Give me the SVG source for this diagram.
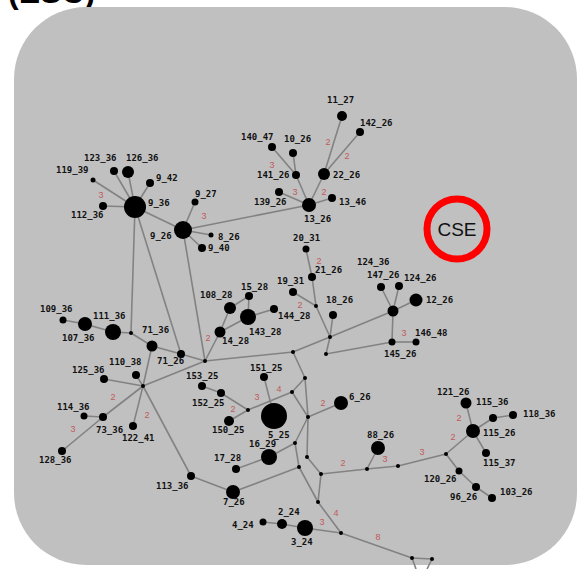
<svg xmlns="http://www.w3.org/2000/svg" width="587" height="569" viewBox="0 0 587 569">
<style>
.bg{fill:#c0c0c0}
.e line{stroke:#828282;stroke-width:1.6;fill:none}
.n circle{fill:#000}
.lb{font-family:"DejaVu Sans Mono",monospace;font-size:9px;font-weight:bold;fill:#111}
.w{font-family:"Liberation Sans",Arial,sans-serif;font-size:9px;fill:#c05a5a;text-anchor:middle}
</style>
<rect width="587" height="569" fill="#fff"/>
<text x="8" y="3" font-family="Liberation Sans,Arial,sans-serif" font-size="32" font-weight="bold" fill="#000">(ESC)</text>
<rect class="bg" x="14" y="7" width="563" height="558" rx="72" ry="72"/>
<g id="cse"><circle cx="457" cy="229" r="30" fill="none" stroke="#ff0000" stroke-width="7"/>
<text x="457" y="236" font-family="Liberation Sans,Arial,sans-serif" font-size="19" fill="#111" text-anchor="middle">CSE</text></g>
<g id="connectors" class="e">
<line x1="135" y1="207" x2="128" y2="172"/><line x1="135" y1="207" x2="114" y2="171"/><line x1="135" y1="207" x2="93" y2="180"/><line x1="135" y1="207" x2="150" y2="183"/><line x1="135" y1="207" x2="103" y2="206"/><line x1="135" y1="207" x2="183" y2="230"/><line x1="135" y1="207" x2="131" y2="333"/><line x1="135" y1="207" x2="181" y2="354"/>
<line x1="183" y1="230" x2="195" y2="202"/><line x1="183" y1="230" x2="211" y2="235"/><line x1="183" y1="230" x2="202" y2="248"/><line x1="183" y1="230" x2="309" y2="205"/><line x1="183" y1="230" x2="205" y2="361"/>
<line x1="309" y1="205" x2="296" y2="175"/><line x1="296" y1="175" x2="272" y2="147"/><line x1="296" y1="175" x2="293" y2="153"/><line x1="309" y1="205" x2="279" y2="192"/><line x1="309" y1="205" x2="324" y2="174"/><line x1="324" y1="174" x2="342" y2="116"/><line x1="324" y1="174" x2="360" y2="132"/><line x1="309" y1="205" x2="332" y2="198"/>
<line x1="63" y1="320" x2="85" y2="324"/><line x1="85" y1="324" x2="113" y2="332"/><line x1="113" y1="332" x2="131" y2="333"/><line x1="131" y1="333" x2="152" y2="346"/><line x1="152" y1="346" x2="181" y2="354"/><line x1="181" y1="354" x2="205" y2="361"/><line x1="152" y1="346" x2="143" y2="386"/>
<line x1="143" y1="386" x2="104" y2="379"/><line x1="143" y1="386" x2="136" y2="375"/><line x1="143" y1="386" x2="205" y2="361"/><line x1="143" y1="386" x2="103" y2="417"/><line x1="103" y1="417" x2="62" y2="451"/><line x1="103" y1="417" x2="84" y2="416"/><line x1="143" y1="386" x2="133" y2="426"/><line x1="143" y1="386" x2="191" y2="476"/><line x1="191" y1="476" x2="233" y2="492"/>
<line x1="220" y1="332" x2="205" y2="361"/><line x1="220" y1="332" x2="230" y2="308"/><line x1="230" y1="308" x2="249" y2="296"/><line x1="249" y1="296" x2="248" y2="317"/><line x1="248" y1="317" x2="220" y2="332"/><line x1="248" y1="317" x2="274" y2="309"/>
<line x1="205" y1="361" x2="293" y2="352"/><line x1="306" y1="249" x2="312" y2="277"/><line x1="312" y1="277" x2="316" y2="306"/><line x1="316" y1="306" x2="293" y2="292"/><line x1="316" y1="306" x2="330" y2="337"/><line x1="333" y1="315" x2="330" y2="337"/><line x1="330" y1="337" x2="293" y2="352"/><line x1="330" y1="337" x2="326" y2="354"/><line x1="330" y1="337" x2="393" y2="311"/><line x1="326" y1="354" x2="392" y2="342"/>
<line x1="393" y1="311" x2="381" y2="287"/><line x1="393" y1="311" x2="399" y2="286"/><line x1="393" y1="311" x2="416" y2="300"/><line x1="393" y1="311" x2="392" y2="342"/><line x1="392" y1="342" x2="416" y2="342"/>
<line x1="293" y1="352" x2="305" y2="378"/><line x1="305" y1="378" x2="292" y2="392"/><line x1="305" y1="378" x2="308" y2="417"/><line x1="292" y1="392" x2="308" y2="417"/><line x1="248" y1="410" x2="292" y2="392"/><line x1="202" y1="386" x2="221" y2="393"/><line x1="221" y1="393" x2="248" y2="410"/><line x1="248" y1="410" x2="229" y2="421"/><line x1="264" y1="377" x2="274" y2="416"/>
<line x1="308" y1="417" x2="341" y2="403"/><line x1="308" y1="417" x2="295" y2="443"/><line x1="308" y1="417" x2="307" y2="457"/><line x1="295" y1="443" x2="269" y2="457"/><line x1="269" y1="457" x2="236" y2="469"/><line x1="295" y1="443" x2="299" y2="467"/><line x1="307" y1="457" x2="321" y2="474"/><line x1="299" y1="467" x2="318" y2="502"/><line x1="321" y1="474" x2="318" y2="502"/><line x1="299" y1="467" x2="233" y2="492"/>
<line x1="318" y1="502" x2="341" y2="533"/><line x1="341" y1="533" x2="305" y2="528"/><line x1="305" y1="528" x2="282" y2="524"/><line x1="282" y1="524" x2="263" y2="522"/><line x1="341" y1="533" x2="412" y2="558"/><line x1="412" y1="558" x2="432" y2="559"/><line x1="412" y1="558" x2="416" y2="569"/><line x1="432" y1="559" x2="427" y2="569"/>
<line x1="321" y1="474" x2="367" y2="469"/><line x1="367" y1="469" x2="378" y2="448"/><line x1="367" y1="469" x2="398" y2="466"/><line x1="398" y1="466" x2="446" y2="454"/><line x1="446" y1="454" x2="473" y2="431"/><line x1="473" y1="431" x2="466" y2="403"/><line x1="473" y1="431" x2="493" y2="418"/><line x1="493" y1="418" x2="513" y2="415"/><line x1="473" y1="431" x2="486" y2="453"/><line x1="446" y1="454" x2="459" y2="471"/><line x1="459" y1="471" x2="476" y2="487"/><line x1="476" y1="487" x2="492" y2="498"/>
</g>
<g id="weights">
<text class="w" x="101" y="198">3</text><text class="w" x="204" y="219">3</text><text class="w" x="328" y="145">2</text><text class="w" x="347" y="159">2</text><text class="w" x="272" y="168">3</text><text class="w" x="295" y="195">3</text><text class="w" x="324" y="195">2</text><text class="w" x="208" y="341">2</text><text class="w" x="113" y="400">2</text><text class="w" x="73" y="432">3</text><text class="w" x="147" y="418">2</text><text class="w" x="319" y="264">2</text><text class="w" x="300" y="308">2</text><text class="w" x="257" y="400">3</text><text class="w" x="279" y="392">4</text><text class="w" x="233" y="412">2</text><text class="w" x="323" y="406">2</text><text class="w" x="343" y="466">2</text><text class="w" x="336" y="516">4</text><text class="w" x="322" y="525">3</text><text class="w" x="378" y="540">8</text><text class="w" x="385" y="462">3</text><text class="w" x="422" y="455">3</text><text class="w" x="453" y="440">2</text><text class="w" x="459" y="421">2</text><text class="w" x="404" y="336">3</text>
</g>
<g class="n">
<g id="n9_36"><circle cx="135" cy="207" r="11"/><text class="lb" x="148" y="206">9_36</text></g>
<g id="n9_26"><circle cx="183" cy="230" r="9"/><text class="lb" x="150" y="239">9_26</text></g>
<g id="n119_39"><circle cx="93" cy="180" r="2.5"/><text class="lb" x="56" y="173">119_39</text></g>
<g id="n123_36"><circle cx="114" cy="171" r="4"/><text class="lb" x="84" y="161">123_36</text></g>
<g id="n126_36"><circle cx="128" cy="172" r="6"/><text class="lb" x="126" y="161">126_36</text></g>
<g id="n9_42"><circle cx="150" cy="183" r="4"/><text class="lb" x="156" y="181">9_42</text></g>
<g id="n112_36"><circle cx="103" cy="206" r="4"/><text class="lb" x="71" y="218">112_36</text></g>
<g id="n9_27"><circle cx="195" cy="202" r="3.5"/><text class="lb" x="195" y="197">9_27</text></g>
<g id="n8_26"><circle cx="211" cy="235" r="2.5"/><text class="lb" x="218" y="240">8_26</text></g>
<g id="n9_40"><circle cx="202" cy="248" r="4"/><text class="lb" x="208" y="251">9_40</text></g>
<g id="n13_26"><circle cx="309" cy="205" r="7"/><text class="lb" x="304" y="222">13_26</text></g>
<g id="n11_27"><circle cx="342" cy="116" r="5"/><text class="lb" x="327" y="103">11_27</text></g>
<g id="n142_26"><circle cx="360" cy="132" r="4"/><text class="lb" x="360" y="126">142_26</text></g>
<g id="n140_47"><circle cx="272" cy="147" r="4"/><text class="lb" x="241" y="140">140_47</text></g>
<g id="n10_26"><circle cx="293" cy="153" r="4"/><text class="lb" x="284" y="142">10_26</text></g>
<g id="n141_26"><circle cx="296" cy="175" r="4"/><text class="lb" x="257" y="178">141_26</text></g>
<g id="n22_26"><circle cx="324" cy="174" r="6"/><text class="lb" x="333" y="178">22_26</text></g>
<g id="n139_26"><circle cx="279" cy="192" r="4"/><text class="lb" x="254" y="205">139_26</text></g>
<g id="n13_46"><circle cx="332" cy="198" r="4"/><text class="lb" x="339" y="205">13_46</text></g>
<g id="n109_36"><circle cx="63" cy="320" r="3.5"/><text class="lb" x="40" y="312">109_36</text></g>
<g id="n107_36"><circle cx="85" cy="324" r="7"/><text class="lb" x="62" y="341">107_36</text></g>
<g id="n111_36"><circle cx="113" cy="332" r="8"/><text class="lb" x="93" y="319">111_36</text></g>
<g id="n71_36"><circle cx="152" cy="346" r="5.5"/><text class="lb" x="142" y="333">71_36</text></g>
<g id="n71_26"><circle cx="181" cy="354" r="4"/><text class="lb" x="157" y="364">71_26</text></g>
<g id="n110_38"><circle cx="136" cy="375" r="4"/><text class="lb" x="109" y="365">110_38</text></g>
<g id="n125_36"><circle cx="104" cy="379" r="4"/><text class="lb" x="72" y="373">125_36</text></g>
<g id="n114_36"><circle cx="84" cy="416" r="3.5"/><text class="lb" x="57" y="410">114_36</text></g>
<g id="n73_36"><circle cx="103" cy="417" r="4"/><text class="lb" x="96" y="433">73_36</text></g>
<g id="n122_41"><circle cx="133" cy="426" r="4"/><text class="lb" x="122" y="441">122_41</text></g>
<g id="n128_36"><circle cx="62" cy="451" r="4"/><text class="lb" x="39" y="463">128_36</text></g>
<g id="n113_36"><circle cx="191" cy="476" r="4"/><text class="lb" x="156" y="489">113_36</text></g>
<g id="n108_28"><circle cx="230" cy="308" r="6"/><text class="lb" x="200" y="298">108_28</text></g>
<g id="n15_28"><circle cx="249" cy="296" r="4"/><text class="lb" x="241" y="290">15_28</text></g>
<g id="n143_28"><circle cx="248" cy="317" r="8"/><text class="lb" x="249" y="335">143_28</text></g>
<g id="n144_28"><circle cx="274" cy="309" r="4"/><text class="lb" x="278" y="319">144_28</text></g>
<g id="n14_28"><circle cx="220" cy="332" r="5.5"/><text class="lb" x="222" y="344">14_28</text></g>
<g id="n20_31"><circle cx="306" cy="249" r="3.5"/><text class="lb" x="293" y="241">20_31</text></g>
<g id="n21_26"><circle cx="312" cy="277" r="4"/><text class="lb" x="315" y="273">21_26</text></g>
<g id="n19_31"><circle cx="293" cy="292" r="4"/><text class="lb" x="277" y="284">19_31</text></g>
<g id="n18_26"><circle cx="333" cy="315" r="4"/><text class="lb" x="326" y="303">18_26</text></g>
<g id="n124_36"><circle cx="393" cy="311" r="5.5"/><text class="lb" x="357" y="265">124_36</text></g>
<g id="n147_26"><circle cx="381" cy="287" r="4"/><text class="lb" x="367" y="278">147_26</text></g>
<g id="n124_26"><circle cx="399" cy="286" r="4"/><text class="lb" x="404" y="281">124_26</text></g>
<g id="n12_26"><circle cx="416" cy="300" r="6.5"/><text class="lb" x="426" y="303">12_26</text></g>
<g id="n145_26"><circle cx="392" cy="342" r="3.5"/><text class="lb" x="384" y="357">145_26</text></g>
<g id="n146_48"><circle cx="416" cy="342" r="3.5"/><text class="lb" x="415" y="336">146_48</text></g>
<g id="n151_25"><circle cx="264" cy="377" r="4"/><text class="lb" x="250" y="371">151_25</text></g>
<g id="n153_25"><circle cx="202" cy="386" r="4"/><text class="lb" x="186" y="379">153_25</text></g>
<g id="n152_25"><circle cx="221" cy="393" r="4"/><text class="lb" x="192" y="406">152_25</text></g>
<g id="n150_25"><circle cx="229" cy="421" r="5"/><text class="lb" x="212" y="433">150_25</text></g>
<g id="n5_25"><circle cx="274" cy="416" r="13"/><text class="lb" x="268" y="438">5_25</text></g>
<g id="n6_26"><circle cx="341" cy="403" r="7"/><text class="lb" x="349" y="400">6_26</text></g>
<g id="n16_29"><circle cx="269" cy="457" r="8"/><text class="lb" x="249" y="447">16_29</text></g>
<g id="n17_28"><circle cx="236" cy="469" r="4"/><text class="lb" x="214" y="461">17_28</text></g>
<g id="n7_26"><circle cx="233" cy="492" r="7"/><text class="lb" x="223" y="505">7_26</text></g>
<g id="n2_24"><circle cx="282" cy="524" r="5"/><text class="lb" x="278" y="515">2_24</text></g>
<g id="n4_24"><circle cx="263" cy="522" r="3.5"/><text class="lb" x="232" y="528">4_24</text></g>
<g id="n3_24"><circle cx="305" cy="528" r="8"/><text class="lb" x="291" y="545">3_24</text></g>
<g id="n88_26"><circle cx="378" cy="448" r="7"/><text class="lb" x="367" y="438">88_26</text></g>
<g id="n115_26"><circle cx="473" cy="431" r="7"/><text class="lb" x="483" y="436">115_26</text></g>
<g id="n121_26"><circle cx="466" cy="403" r="5.5"/><text class="lb" x="437" y="395">121_26</text></g>
<g id="n115_36"><circle cx="493" cy="418" r="4"/><text class="lb" x="476" y="405">115_36</text></g>
<g id="n118_36"><circle cx="513" cy="415" r="4"/><text class="lb" x="523" y="417">118_36</text></g>
<g id="n115_37"><circle cx="486" cy="453" r="4"/><text class="lb" x="483" y="466">115_37</text></g>
<g id="n120_26"><circle cx="459" cy="471" r="3.5"/><text class="lb" x="424" y="482">120_26</text></g>
<g id="n96_26"><circle cx="476" cy="487" r="4"/><text class="lb" x="450" y="500">96_26</text></g>
<g id="n103_26"><circle cx="492" cy="498" r="4"/><text class="lb" x="500" y="495">103_26</text></g>
<g id="junctions">
<circle cx="131" cy="333" r="2"/><circle cx="205" cy="361" r="2"/><circle cx="143" cy="386" r="2"/><circle cx="316" cy="306" r="2"/><circle cx="330" cy="337" r="2"/><circle cx="293" cy="352" r="2"/><circle cx="326" cy="354" r="2"/><circle cx="305" cy="378" r="2"/><circle cx="292" cy="392" r="2"/><circle cx="308" cy="417" r="2"/><circle cx="248" cy="410" r="2"/><circle cx="295" cy="443" r="2"/><circle cx="307" cy="457" r="2"/><circle cx="299" cy="467" r="2"/><circle cx="321" cy="474" r="2"/><circle cx="367" cy="469" r="2"/><circle cx="318" cy="502" r="2"/><circle cx="341" cy="533" r="2"/><circle cx="412" cy="558" r="2"/><circle cx="432" cy="559" r="2"/><circle cx="398" cy="466" r="2"/><circle cx="446" cy="454" r="2"/>
</g>
</g>
</svg>
